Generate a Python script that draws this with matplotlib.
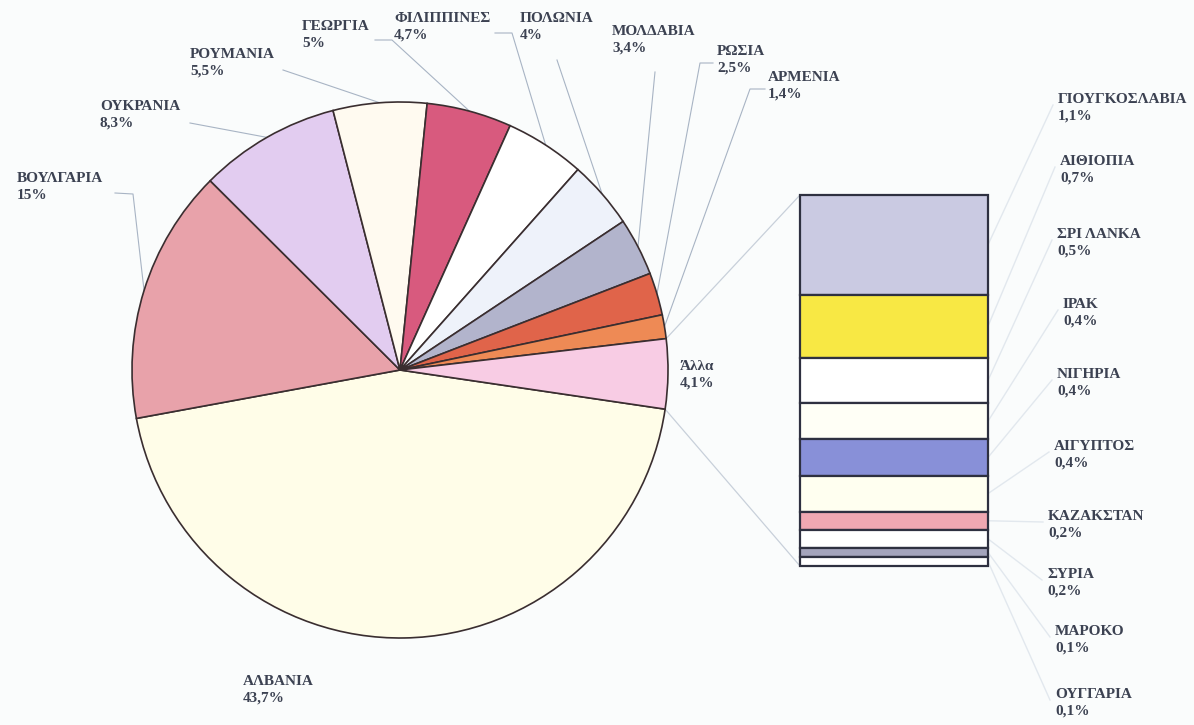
import numpy as np
import matplotlib
matplotlib.use("Agg")
from matplotlib import pyplot as plt

# main pie
countries = ['ΑΛΒΑΝΙΑ', 'ΒΟΥΛΓΑΡΙΑ', 'ΟΥΚΡΑΝΙΑ', 'ΡΟΥΜΑΝΙΑ', 'ΓΕΩΡΓΙΑ', 'ΦΙΛΙΠΠΙΝΕΣ',
             'ΠΟΛΩΝΙΑ', 'ΜΟΛΔΑΒΙΑ', 'ΡΩΣΙΑ', 'ΑΡΜΕΝΙΑ', 'Άλλα']
shares = [43.7, 15, 8.3, 5.5, 5, 4.7, 4, 3.4, 2.5, 1.4, 4.1]
pie_colors = ['#FFFDE8', '#E8A2AA', '#E2CCF0', '#FFFAF0', '#D85A7E', '#FFFFFF',
              '#EEF2FA', '#B2B4CC', '#E0644A', '#EE8A55', '#F8CCE4']

# "Άλλα" broken down
other_names = ['ΓΙΟΥΓΚΟΣΛΑΒΙΑ', 'ΑΙΘΙΟΠΙΑ', 'ΣΡΙ ΛΑΝΚΑ', 'ΙΡΑΚ', 'ΝΙΓΗΡΙΑ',
               'ΑΙΓΥΠΤΟΣ', 'ΚΑΖΑΚΣΤΑΝ', 'ΣΥΡΙΑ', 'ΜΑΡΟΚΟ', 'ΟΥΓΓΑΡΙΑ']
other_shares = [1.1, 0.7, 0.5, 0.4, 0.4, 0.4, 0.2, 0.2, 0.1, 0.1]
bar_colors = ['#CACAE2', '#F8E844', '#FFFFFF', '#FFFFF6', '#8890D8', '#FFFFF0',
              '#F0A8B2', '#FFFFFF', '#A4A4BC', '#FFFFFF']

W, H = 1194, 725
bg = '#FAFCFC'
txt_col = '#3C4252'
line_col = '#A8B4C4'
font = dict(family='Liberation Serif', fontweight='bold', fontsize=11, color=txt_col)


def fmt(v):
    return f"{v:g}".replace('.', ',') + '%'


def Y(y):
    return H - y


fig = plt.figure(figsize=(W / 100, H / 100), dpi=100, facecolor=bg)
ax = fig.add_axes([0, 0, 1, 1])
ax.set_facecolor(bg)

cx, cy, r = 400, Y(370), 268
wedges, _ = ax.pie(shares, colors=pie_colors, startangle=-8.4, counterclock=False,
                   center=(cx, cy), radius=r,
                   wedgeprops=dict(edgecolor='#3A2E30', linewidth=1.2))
ax.set_xlim(0, W)
ax.set_ylim(0, H)
ax.set_aspect('equal')
ax.axis('off')

# label positions (top-left of name) and elbow of leader line, in pixels
label_pos = [(243, 675), (17, 172), (100, 100), (190, 48), (302, 20), (394, 12),
             (520, 12), (612, 25), (717, 45), (768, 71), (680, 360)]
elbows = [None, [(115, 193), (133, 194)], [(190, 123)], [(283, 70)], [(375, 40), (392, 40)],
          [(495, 33), (512, 33)], [(557, 60)], [(655, 72)], [(713, 63), (700, 63)],
          [(765, 89), (750, 89)], None]

for w, name, v, (lx, ly), el in zip(wedges, countries, shares, label_pos, elbows):
    ax.text(lx, Y(ly), name + '\n' + fmt(v), va='top', ha='left', linespacing=1.4, **font)
    if el:
        mid = np.deg2rad((w.theta1 + w.theta2) / 2)
        px, py = cx + r * np.cos(mid), cy + r * np.sin(mid)
        xs = [p[0] for p in el] + [px]
        ys = [Y(p[1]) for p in el] + [py]
        ax.plot(xs, ys, color=line_col, lw=0.8, zorder=0.5)

# bar of the "other" slice
bx0, bx1, by0, by1 = 800, 988, 195, 566
bax = fig.add_axes([bx0 / W, Y(by1) / H, (bx1 - bx0) / W, (by1 - by0) / H])
total = sum(other_shares)
bottoms = np.concatenate([[0], np.cumsum(other_shares)[:-1]])
bars = bax.bar(0, other_shares, bottom=bottoms, width=1, color=bar_colors,
               edgecolor='#2E3040', linewidth=1.6, clip_on=False)
bax.set_xlim(-0.5, 0.5)
bax.set_ylim(total, 0)
bax.axis('off')

# connectors pie -> bar
ow = wedges[-1]
for ang, byy in [(ow.theta1, by1), (ow.theta2, by0)]:
    a = np.deg2rad(ang)
    ax.plot([cx + r * np.cos(a), bx0], [cy + r * np.sin(a), Y(byy)],
            color='#C8D0DA', lw=0.9, zorder=0.5)

right_pos = [(1058, 93), (1060, 155), (1057, 228), (1063, 298), (1057, 368),
             (1054, 440), (1048, 510), (1047, 568), (1055, 625), (1055, 688)]
px_per = (by1 - by0) / total
for name, v, b, (lx, ly) in zip(other_names, other_shares, bottoms, right_pos):
    ax.text(lx, Y(ly), name + '\n' + fmt(v), va='top', ha='left', linespacing=1.4, **font)
    seg_mid = by0 + (b + v / 2) * px_per
    ax.plot([bx1, lx - 5], [Y(seg_mid), Y(ly + 12)], color='#E2E8EE', lw=1.0, zorder=0.5)

fig.savefig('out.png', dpi=100, facecolor=bg)
